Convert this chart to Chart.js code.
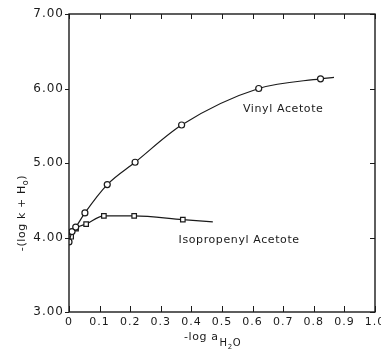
<!DOCTYPE html>
<html><head><meta charset="utf-8">
<script src="https://cdn.jsdelivr.net/npm/chart.js@4/dist/chart.umd.min.js"></script>
<style>html,body{margin:0;padding:0;background:#fff}#wrap{width:381px;height:352px}</style>
</head><body><div id="wrap"><canvas id="c"></canvas></div>
<script>
// Data
const vinylX = [0, 0.010, 0.022, 0.052, 0.125, 0.216, 0.368, 0.620, 0.822, 0.866];
const vinylY = [3.94, 4.08, 4.14, 4.33, 4.71, 5.01, 5.51, 6.00, 6.13, 6.15];
const vinylMarkers = [1, 1, 1, 1, 1, 1, 1, 1, 1, 0];
const isoX = [0, 0.007, 0.023, 0.056, 0.114, 0.213, 0.372, 0.470];
const isoY = [3.95, 4.01, 4.12, 4.18, 4.29, 4.29, 4.24, 4.21];
const isoMarkers = [0, 1, 1, 1, 1, 1, 1, 0];
const xTickLabels = ['0','0.1','0.2','0.3','0.4','0.5','0.6','0.7','0.8','0.9','1.0'];
const yTickLabels = ['3.00','4.00','5.00','6.00','7.00'];
const seriesNames = ['Vinyl Acetote', 'Isopropenyl Acetote'];
const labelPos = [[0.70, 5.72], [0.556, 3.97]];

const FONT = 'DejaVu Sans';
const INK = '#1a1a1a';

const toPts = (xs, ys) => xs.map((x, i) => ({x: x, y: ys[i]}));

const framePlugin = {
  id: 'frame',
  beforeInit(chart) { chart.ctx.letterSpacing = '1px'; },
  beforeDraw(chart) { chart.ctx.letterSpacing = '1px'; },
  afterDraw(chart) {
    const ctx = chart.ctx, a = chart.chartArea;
    const xs = chart.scales.x, ys = chart.scales.y;
    ctx.save();
    ctx.strokeStyle = INK;
    ctx.lineWidth = 1.4;
    ctx.strokeRect(a.left, a.top, a.right - a.left, a.bottom - a.top);
    ctx.lineWidth = 1;
    ctx.beginPath();
    xs.ticks.forEach(t => {
      const p = Math.round(xs.getPixelForValue(t.value)) + 0.5;
      ctx.moveTo(p, a.bottom); ctx.lineTo(p, a.bottom - 6);
      ctx.moveTo(p, a.top); ctx.lineTo(p, a.top + 5);
    });
    ys.ticks.forEach(t => {
      const p = Math.round(ys.getPixelForValue(t.value)) + 0.5;
      ctx.moveTo(a.left - 4, p); ctx.lineTo(a.left, p);
      ctx.moveTo(a.right, p); ctx.lineTo(a.right - 5, p);
    });
    ctx.stroke();

    ctx.fillStyle = INK;
    ctx.letterSpacing = '0.6px';
    // series labels
    ctx.font = '11px "' + FONT + '"';
    ctx.textAlign = 'center';
    ctx.textBaseline = 'middle';
    seriesNames.forEach((n, i) => {
      ctx.fillText(n, xs.getPixelForValue(labelPos[i][0]), ys.getPixelForValue(labelPos[i][1]));
    });

    // x title: -log a_{H2O}
    ctx.textAlign = 'left';
    ctx.textBaseline = 'alphabetic';
    ctx.font = '11px "' + FONT + '"';
    let x0 = 184, y0 = 340;
    ctx.fillText('-log a', x0, y0);
    let w = ctx.measureText('-log a').width;
    ctx.font = '10px "' + FONT + '"';
    ctx.fillText('H', x0 + w + 1, y0 + 6);
    let w2 = ctx.measureText('H').width;
    ctx.font = '7px "' + FONT + '"';
    ctx.fillText('2', x0 + w + 1 + w2, y0 + 9);
    let w3 = ctx.measureText('2').width;
    ctx.font = '10px "' + FONT + '"';
    ctx.fillText('O', x0 + w + 1 + w2 + w3, y0 + 6);

    // y title: -(log k + H_o)
    ctx.translate(21, 213);
    ctx.rotate(-Math.PI / 2);
    const s1 = '-(log k + H', s3 = ')';
    ctx.font = '11px "' + FONT + '"';
    const a1 = ctx.measureText(s1).width, a3 = ctx.measureText(s3).width;
    ctx.font = '8px "' + FONT + '"';
    const a2 = ctx.measureText('o').width;
    const total = a1 + a2 + a3;
    let cx = -total / 2;
    ctx.font = '11px "' + FONT + '"';
    ctx.fillText(s1, cx, 4);
    ctx.font = '8px "' + FONT + '"';
    ctx.fillText('o', cx + a1, 7);
    ctx.font = '11px "' + FONT + '"';
    ctx.fillText(s3, cx + a1 + a2, 4);
    ctx.restore();
  }
};

new Chart(document.getElementById('c'), {
  type: 'scatter',
  data: {
    datasets: [
      {
        label: seriesNames[0],
        data: toPts(vinylX, vinylY),
        showLine: true,
        cubicInterpolationMode: 'monotone',
        borderColor: INK,
        borderWidth: 1.2,
        pointStyle: 'circle',
        pointRadius: vinylMarkers.map(m => m ? 3 : 0),
        pointBorderWidth: 1.2,
        pointBorderColor: INK,
        pointBackgroundColor: '#fff'
      },
      {
        label: seriesNames[1],
        data: toPts(isoX, isoY),
        showLine: true,
        cubicInterpolationMode: 'monotone',
        borderColor: INK,
        borderWidth: 1.2,
        pointStyle: 'rect',
        pointRadius: isoMarkers.map(m => m ? 3.2 : 0),
        pointBorderWidth: 1.2,
        pointBorderColor: INK,
        pointBackgroundColor: '#fff'
      }
    ]
  },
  plugins: [framePlugin],
  options: {
    responsive: true,
    maintainAspectRatio: false,
    animation: false,
    events: [],
    layout: { padding: { top: 14, right: 6, left: 0, bottom: 0 } },
    plugins: { legend: { display: false }, tooltip: { enabled: false } },
    scales: {
      x: {
        type: 'linear',
        min: 0, max: 1,
        grid: { display: false, drawTicks: false },
        border: { display: false },
        ticks: {
          stepSize: 0.1,
          padding: 4,
          color: INK,
          font: { family: FONT, size: 11 },
          maxRotation: 0,
          autoSkip: false,
          callback: (v, i) => xTickLabels[i]
        },
        afterFit(s) { s.height = 40; s.paddingLeft = 0; s.paddingRight = 0; }
      },
      y: {
        type: 'linear',
        min: 3, max: 7,
        grid: { display: false, drawTicks: false },
        border: { display: false },
        ticks: {
          stepSize: 1,
          padding: 5,
          color: INK,
          font: { family: FONT, size: 12 },
          callback: (v, i) => yTickLabels[i]
        },
        afterFit(s) { s.width = 69; s.paddingTop = 0; s.paddingBottom = 0; }
      }
    }
  }
});
</script>
</body></html>
